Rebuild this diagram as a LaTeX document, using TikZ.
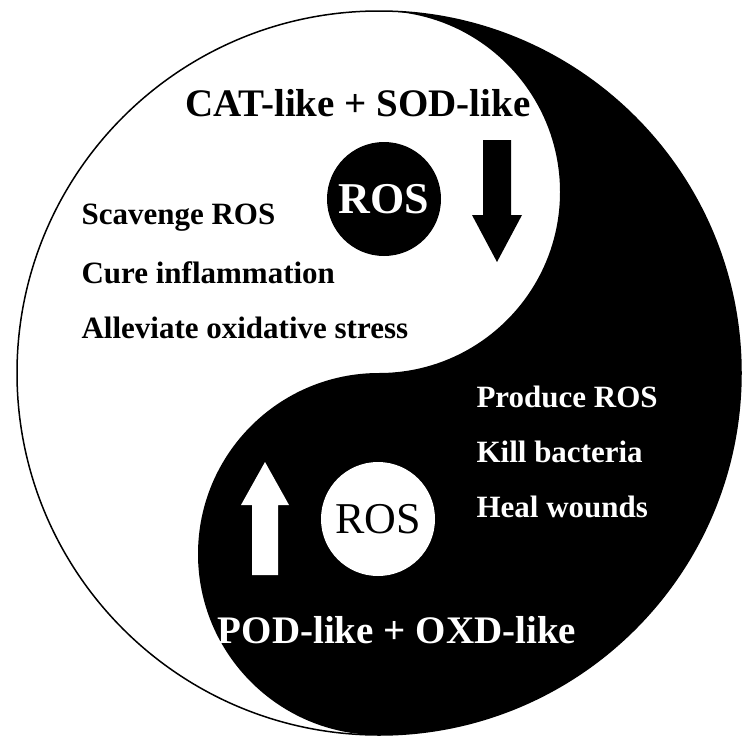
\documentclass[tikz,border=0pt]{standalone}
\usepackage{fontspec}
\setmainfont{Liberation Serif}
\usepackage{tikz}
\begin{document}
\begin{tikzpicture}[x=1pt,y=1pt]
\tikzset{
  bigtxt/.style={font=\bfseries\fontsize{39}{46}\selectfont},
  smalltxt/.style={font=\bfseries\fontsize{31}{36}\selectfont, anchor=west},
  dot/.style={circle, minimum size=114pt, inner sep=0pt},
}
\useasboundingbox (0,0) rectangle (742,-744);

%yin-yang body
\fill[white] (379,-373) circle (362);
\fill[black] (379,-11) arc[start angle=90,end angle=-90,radius=362]
  arc[start angle=-90,end angle=-270,radius=181]
  arc[start angle=-90,end angle=90,radius=181] -- cycle;
\draw[line width=1.5pt] (379,-373) circle (362);

%dots
\node[dot, fill=black, text=white, font=\bfseries\fontsize{44}{50}\selectfont] (rosA) at (384,-199) {ROS};
\node[dot, fill=white, text=black, font=\fontsize{44}{50}\selectfont] (rosB) at (378,-519) {ROS};

%arrows
\fill[black] (483,-140) -- (511,-140) -- (511,-215) -- (522,-215) -- (497,-262) -- (472,-215) -- (483,-215) -- cycle;
\fill[white] (252,-575) -- (278,-575) -- (278,-505) -- (289,-505) -- (265,-462) -- (241,-505) -- (252,-505) -- cycle;

% Text Nodes
\node[bigtxt] (top) at (358,-103) {CAT-like + SOD-like};
\node[bigtxt, text=white] (bot) at (397,-630) {POD-like + OXD-like};
\node[smalltxt] (s1) at (78,-218) {Scavenge ROS};
\node[smalltxt] (s2) at (78,-273) {Cure inflammation};
\node[smalltxt] (s3) at (78,-328) {Alleviate oxidative stress};
\node[smalltxt, text=white] (p1) at (473,-397) {Produce ROS};
\node[smalltxt, text=white] (p2) at (473,-452) {Kill bacteria};
\node[smalltxt, text=white] (p3) at (473,-507) {Heal wounds};
\end{tikzpicture}
\end{document}
